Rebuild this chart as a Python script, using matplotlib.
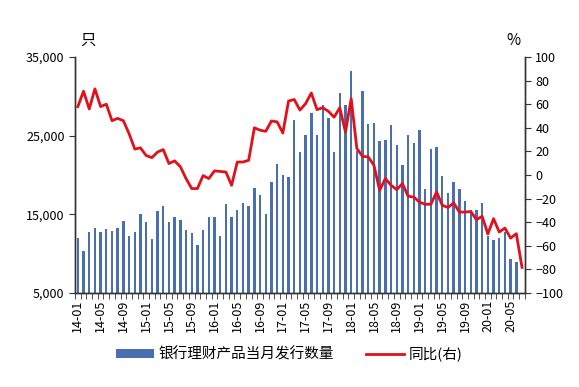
import numpy as np
import matplotlib
matplotlib.use("Agg")
import matplotlib.pyplot as plt
from matplotlib.ticker import FuncFormatter, FixedLocator

plt.rcParams["font.family"] = ["Noto Sans CJK SC", "DejaVu Sans"]

# months 14-01 .. 20-07
months = [f"{y:02d}-{m:02d}" for y in range(14, 21) for m in range(1, 13)][:79]

# monthly issuance of bank wealth products (left axis); 20-07 not available
counts = [12000, 10300, 12800, 13200, 12800, 13100, 12900, 13200, 14200, 12300, 12800, 15100,
          14000, 11850, 15450, 16100, 14050, 14650, 14250, 13000, 12650, 11100, 13000, 14700,
          14700, 12200, 16300, 14700, 15600, 16400, 16100, 18350, 17500, 15100, 19050, 21400,
          20000, 19700, 26950, 22900, 25050, 27900, 25050, 28850, 27300, 22900, 30400, 28850,
          33250, 23000, 30700, 26500, 26650, 24300, 24450, 26300, 23800, 21300, 25050, 24100,
          25750, 18250, 23250, 23500, 19900, 17650, 19050, 18250, 16700, 15550, 15500, 16400,
          12200, 11700, 12000, 12800, 9350, 8900, np.nan]

# year-on-year change, % (right axis)
yoy = [58, 71, 56, 73, 58, 60, 46, 48, 46, 35, 22, 23,
       16.5, 14.7, 19.5, 21.5, 9.7, 12, 7, -3, -11.5, -11.5, -0.5, -3,
       3.5, 3, 2.5, -8.7, 11, 11, 12.5, 40, 38, 37, 45.8, 45,
       35.6, 62.7, 64, 55, 60.5, 69.5, 55.4, 57, 54, 49, 57, 36.4,
       64.7, 22.4, 15.8, 15.3, 8.2, -13, -3, -8.7, -12.4, -7.3, -18, -18.7,
       -23, -24.8, -24.8, -14.4, -25.7, -27.5, -23.7, -31.4, -31.4, -31, -37.8, -35,
       -50, -37, -48.3, -45, -53.5, -49.7, -78.3]

x = np.arange(len(months))
label_pos = x[::4][:20]
label_txt = [months[i] for i in label_pos]

fig = plt.figure(figsize=(5.79, 3.87), dpi=100)
ax = fig.add_axes([0.1295, 0.2429, 0.777, 0.6098])
ax2 = ax.twinx()

bars = ax.bar(x, counts, width=0.42, color="#4a6fb0", label="银行理财产品当月发行数量")
line, = ax2.plot(x, yoy, color="#e3101c", lw=2, label="同比(右)")

ax.set_xlim(-0.5, len(months) - 0.5)
ax.set_ylim(5000, 35000)
ax.set_yticks([5000, 15000, 25000, 35000])
ax.yaxis.set_major_formatter(FuncFormatter(lambda v, p: f"{int(v):,}"))
ax2.set_ylim(-100, 100)
ax2.set_yticks(np.arange(-100, 101, 20))

ax.set_xticks(label_pos)
ax.set_xticklabels(label_txt, rotation=90, fontsize=9)
ax.tick_params(axis="x", which="major", length=0, pad=5)
ax.xaxis.set_minor_locator(FixedLocator(np.arange(-0.5, len(months), 1)))
ax.tick_params(axis="x", which="minor", length=4, direction="out", color="#333333")
ax.tick_params(axis="y", length=4, direction="out", labelsize=9, color="#333333")
ax2.tick_params(axis="y", length=4, direction="out", labelsize=9, color="#333333")

for a in (ax, ax2):
    a.spines["top"].set_visible(False)
    for s in ("left", "right", "bottom"):
        a.spines[s].set_color("#333333")
        a.spines[s].set_linewidth(1)

fig.text(0.152, 0.895, "只", fontsize=11, ha="center", va="center")
fig.text(0.886, 0.895, "%", fontsize=11, ha="center", va="center")

fig.legend(handles=[bars, line], loc="center", bbox_to_anchor=(0.5, 0.085), ncol=2,
           frameon=False, fontsize=10.5, handlelength=2.6, handleheight=0.5,
           columnspacing=2.2, handletextpad=0.3)

fig.savefig("out.png", dpi=100)
